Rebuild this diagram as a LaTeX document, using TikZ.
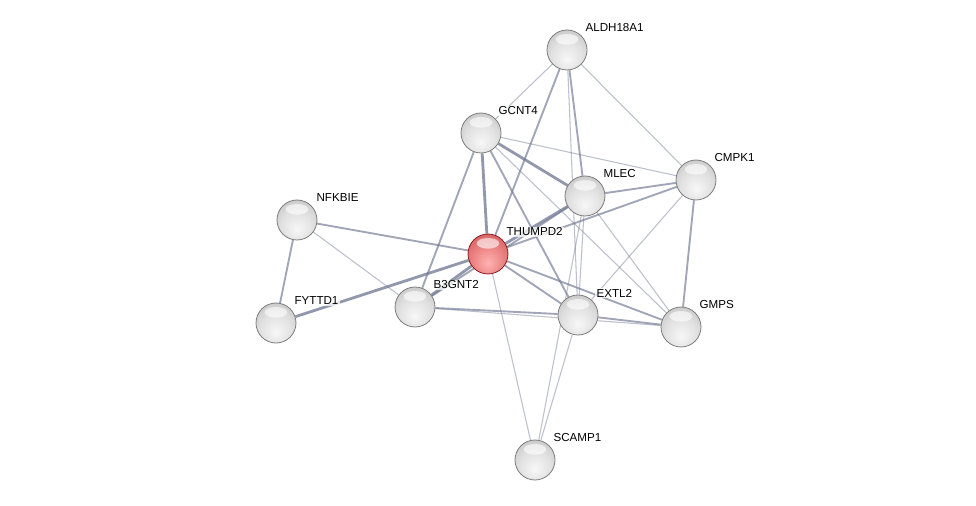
\documentclass[tikz,border=0pt]{standalone}
\usepackage{fontspec}
\setmainfont{Liberation Sans}
\usetikzlibrary{backgrounds}
\definecolor{edgecol}{RGB}{110,118,145}
\definecolor{ballrim}{RGB}{125,125,125}
\definecolor{redrim}{RGB}{135,30,35}
\pgfdeclareradialshading{greysphere}{\pgfpoint{0bp}{-12bp}}{%
  color(0bp)=(white!97!black); color(20bp)=(white!88!black); color(40bp)=(white!74!black); color(58bp)=(white!58!black); color(70bp)=(white!52!black)}
\pgfdeclareradialshading{redsphere}{\pgfpoint{0bp}{-12bp}}{%
  color(0bp)=(red!30!white); color(20bp)=(red!45!white!92!black); color(40bp)=(red!60!white!80!black); color(58bp)=(red!75!black); color(70bp)=(red!60!black)}
\tikzset{
  prot/.style={circle, minimum size=30pt, inner sep=0pt, draw=ballrim, line width=0.6pt, shading=greysphere},
  query/.style={circle, minimum size=30pt, inner sep=0pt, draw=redrim, line width=0.6pt, shading=redsphere},
  shine/.style={fill=white, opacity=0.6},
  lbl/.style={anchor=west, font=\fontsize{8.7pt}{9.5pt}\selectfont, inner sep=1pt, fill=white, fill opacity=0.75, text opacity=1},
  ethin/.style={draw=edgecol, line width=0.8pt, opacity=0.45},
  emed/.style={draw=edgecol, line width=1.4pt, opacity=0.65},
  ethick/.style={draw=edgecol, line width=2.1pt, opacity=0.75},
}
\newcommand{\gloss}[1]{\fill[shine] ([yshift=8pt]#1.center) ellipse (8.5pt and 4pt);}
\begin{document}
\begin{tikzpicture}[x=0.75pt, y=-0.75pt]
\begin{scope}[on background layer]
\fill[white] (0,0) rectangle (976,506);
\end{scope}
\useasboundingbox (0,0) rectangle (976,506);
% nodes
\node[prot] (ALDH) at (567,50) {};
\node[prot] (GCNT) at (481,133) {};
\node[prot] (MLEC) at (585,196) {};
\node[prot] (CMPK) at (696,180) {};
\node[prot] (NFKB) at (297,220) {};
\node[query] (THUM) at (488,254) {};
\node[prot] (B3GN) at (415,307) {};
\node[prot] (FYTT) at (276,323) {};
\node[prot] (EXTL) at (578,315) {};
\node[prot] (GMPS) at (681,327) {};
\node[prot] (SCAM) at (535,460) {};
\foreach \n in {ALDH,GCNT,MLEC,CMPK,NFKB,THUM,B3GN,FYTT,EXTL,GMPS,SCAM}{\gloss{\n}}
% labels
\node[lbl] (lALDH) at (584,28) {ALDH18A1};
\node[lbl] (lGCNT) at (497,111) {GCNT4};
\node[lbl] (lMLEC) at (602,174) {MLEC};
\node[lbl] (lCMPK) at (713,158) {CMPK1};
\node[lbl] (lNFKB) at (315,198) {NFKBIE};
\node[lbl] (lTHUM) at (505,232) {THUMPD2};
\node[lbl] (lB3GN) at (432,285) {B3GNT2};
\node[lbl] (lFYTT) at (293,301) {FYTTD1};
\node[lbl] (lEXTL) at (595,293) {EXTL2};
\node[lbl] (lGMPS) at (698,305) {GMPS};
\node[lbl] (lSCAM) at (552,438) {SCAMP1};
% edges
\begin{scope}[on background layer]
\draw[ethin] (ALDH) -- (GCNT);
\draw[emed] (ALDH) -- (THUM);
\draw[emed] (ALDH) -- (MLEC);
\draw[ethin] (ALDH) -- (EXTL);
\draw[ethin] (ALDH) -- (CMPK);
\draw[ethin] (GCNT) -- (CMPK);
\draw[ethick] (GCNT) -- (MLEC);
\draw[ethick] (GCNT) -- (THUM);
\draw[emed] (GCNT) -- (B3GN);
\draw[emed] (GCNT) -- (EXTL);
\draw[ethin] (GCNT) -- (GMPS);
\draw[emed] (MLEC) -- (CMPK);
\draw[ethick] (MLEC) -- (THUM);
\draw[emed] (MLEC) -- (B3GN);
\draw[ethin] (MLEC) -- (EXTL);
\draw[ethin] (MLEC) -- (GMPS);
\draw[ethin] (MLEC) -- (SCAM);
\draw[emed] (CMPK) -- (THUM);
\draw[ethin] (CMPK) -- (EXTL);
\draw[emed] (CMPK) -- (GMPS);
\draw[emed] (NFKB) -- (THUM);
\draw[emed] (NFKB) -- (FYTT);
\draw[ethin] (NFKB) -- (B3GN);
\draw[ethick] (FYTT) -- (THUM);
\draw[ethick] (THUM) -- (B3GN);
\draw[emed] (THUM) -- (EXTL);
\draw[emed] (THUM) -- (GMPS);
\draw[ethin] (THUM) -- (SCAM);
\draw[emed] (B3GN) -- (EXTL);
\draw[ethin] (B3GN) -- (GMPS);
\draw[emed] (EXTL) -- (GMPS);
\draw[ethin] (EXTL) -- (SCAM);
\end{scope}
\end{tikzpicture}
\end{document}
